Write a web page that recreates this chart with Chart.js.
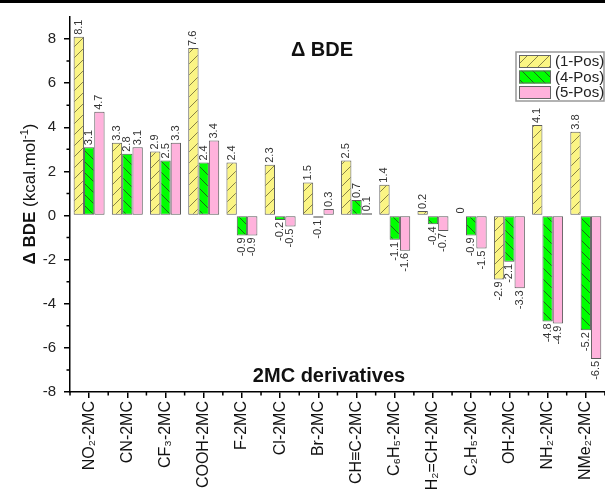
<!DOCTYPE html>
<html><head><meta charset="utf-8">
<script src="https://cdn.jsdelivr.net/npm/chart.js@4"></script>
<style>
html,body{margin:0;padding:0;background:#fff;overflow:hidden;width:605px;height:490px}
#wrap{position:relative;width:605px;height:490px;overflow:hidden}
#topbar{position:absolute;left:0;top:0;width:605px;height:3px;background:#000}
canvas{position:absolute;left:0;top:0}
</style></head><body>
<div id="wrap"><canvas id="c" width="608" height="490"></canvas><div id="topbar"></div></div>
<script>
const categories = ['NO₂-2MC','CN-2MC','CF₃-2MC','COOH-2MC','F-2MC','Cl-2MC','Br-2MC','CH≡C-2MC','C₆H₅-2MC','H₂=CH-2MC','C₂H₅-2MC','OH-2MC','NH₂-2MC','NMe₂-2MC'];
const pos1 = [8.1, 3.3, 2.9, 7.6, 2.4, 2.3, 1.5, 2.5, 1.4, 0.2, 0, -2.9, 4.1, 3.8];
const pos4 = [3.1, 2.8, 2.5, 2.4, -0.9, -0.2, -0.1, 0.7, -1.1, -0.4, -0.9, -2.1, -4.8, -5.2];
const pos5 = [4.7, 3.1, 3.3, 3.4, -0.9, -0.5, 0.3, 0.1, -1.6, -0.7, -1.5, -3.3, -4.9, -6.5];
const seriesNames = ['(1-Pos)', '(4-Pos)', '(5-Pos)'];
const yTickValues = [-8, -6, -4, -2, 0, 2, 4, 6, 8];
const yMinorValues = [-7, -5, -3, -1, 1, 3, 5, 7];
const yMin = -8, yMax = 9;
const chartTitle = 'Δ BDE';
const xTitle = '2MC derivatives';

const FONT = '"Liberation Sans", Arial, Helvetica, sans-serif';
const canvas = document.getElementById('c');
const mainCtx = canvas.getContext('2d');

function hatch(bg, line, dir, lw) {
  const s = 11;
  const c = document.createElement('canvas'); c.width = s; c.height = s;
  const g = c.getContext('2d');
  g.fillStyle = bg; g.fillRect(0, 0, s, s);
  if (line) {
    g.strokeStyle = line; g.lineWidth = lw;
    g.beginPath();
    if (dir > 0) {
      g.moveTo(0, s); g.lineTo(s, 0);
      g.moveTo(-1, 1); g.lineTo(1, -1);
      g.moveTo(s - 1, s + 1); g.lineTo(s + 1, s - 1);
    } else {
      g.moveTo(0, 0); g.lineTo(s, s);
      g.moveTo(-1, s - 1); g.lineTo(1, s + 1);
      g.moveTo(s - 1, -1); g.lineTo(s + 1, 1);
    }
    g.stroke();
  }
  return mainCtx.createPattern(c, 'repeat');
}
const fills = [hatch('#fbf584', '#7a7540', 1, 0.9), hatch('#00ff00', '#1d5a1d', -1, 0.9), hatch('#ffb2dc', null, 0, 0)];

const valueLabels = {
  id: 'valueLabels',
  afterDatasetsDraw(chart) {
    const ctx = chart.ctx;
    ctx.save();
    ctx.font = '11px ' + FONT; ctx.fillStyle = '#333'; ctx.textBaseline = 'middle';
    chart.data.datasets.forEach((ds, di) => {
      const meta = chart.getDatasetMeta(di);
      meta.data.forEach((el, i) => {
        const v = ds.data[i];
        ctx.save();
        if (v >= 0) { ctx.translate(el.x, el.y - 2); ctx.rotate(-Math.PI / 2); ctx.textAlign = 'left'; }
        else { ctx.translate(el.x, el.y + 2); ctx.rotate(-Math.PI / 2); ctx.textAlign = 'right'; }
        ctx.fillText(String(v), 0, 0);
        ctx.restore();
      });
    });
    ctx.restore();
  }
};

const extras = {
  id: 'extras',
  afterDraw(chart) {
    const { ctx, chartArea: a, scales: { x, y } } = chart;
    ctx.save();
    ctx.strokeStyle = '#000'; ctx.lineWidth = 1.5;
    ctx.beginPath();
    yMinorValues.forEach(v => { const p = y.getPixelForValue(v); ctx.moveTo(a.left, p); ctx.lineTo(a.left - 3.5, p); });
    for (let i = 0; i <= categories.length; i++) {
      const p = x.getPixelForValue(i - 0.5);
      ctx.moveTo(p, a.bottom); ctx.lineTo(p, a.bottom + 3.5);
    }
    ctx.stroke();
    ctx.fillStyle = '#111';
    ctx.font = 'bold 20px ' + FONT; ctx.textAlign = 'center'; ctx.textBaseline = 'alphabetic';
    ctx.fillText(chartTitle, 322, 56);
    ctx.fillText(xTitle, 329, 382);
    ctx.save();
    ctx.translate(35, 194); ctx.rotate(-Math.PI / 2);
    const parts = [
      { t: 'Δ BDE', f: 'bold 17px ' + FONT, dy: 0 },
      { t: ' (kcal.mol', f: '17px ' + FONT, dy: 0 },
      { t: '-1', f: '11px ' + FONT, dy: -7 },
      { t: ')', f: '17px ' + FONT, dy: 0 }
    ];
    let total = 0;
    parts.forEach(p => { ctx.font = p.f; p.w = ctx.measureText(p.t).width; total += p.w; });
    let cx = -total / 2;
    ctx.textAlign = 'left';
    parts.forEach(p => { ctx.font = p.f; ctx.fillText(p.t, cx, p.dy); cx += p.w; });
    ctx.restore();
    const lx = 516, ly = 52, lw = 88, lh = 49;
    ctx.fillStyle = '#fff'; ctx.fillRect(lx, ly, lw, lh);
    ctx.strokeStyle = '#999'; ctx.lineWidth = 1.5; ctx.strokeRect(lx, ly, lw, lh);
    ctx.font = '15px ' + FONT; ctx.textBaseline = 'middle'; ctx.textAlign = 'left';
    seriesNames.forEach((n, i) => {
      const sy = ly + 3 + i * 15.5;
      ctx.fillStyle = fills[i]; ctx.fillRect(lx + 3, sy, 32, 13);
      ctx.strokeStyle = '#666'; ctx.lineWidth = 1; ctx.strokeRect(lx + 3.5, sy + 0.5, 31, 12);
      ctx.fillStyle = '#222'; ctx.fillText(n, lx + 39, sy + 7);
    });
    ctx.restore();
  }
};

const ds = (label, data, i) => ({
  label, data, backgroundColor: fills[i], borderColor: '#5a5a5a', borderWidth: 1,
  borderSkipped: false, categoryPercentage: 0.81, barPercentage: 1
});

new Chart(canvas, {
  type: 'bar',
  data: { labels: categories, datasets: [ds(seriesNames[0], pos1, 0), ds(seriesNames[1], pos4, 1), ds(seriesNames[2], pos5, 2)] },
  options: {
    responsive: false, animation: false, devicePixelRatio: 1,
    layout: { padding: { left: 0, top: 12, right: 0, bottom: 0 } },
    plugins: { legend: { display: false }, tooltip: { enabled: false }, title: { display: false } },
    scales: {
      x: {
        offset: true,
        grid: { offset: false, drawOnChartArea: false, tickLength: 6, color: '#000', lineWidth: 1.5 },
        border: { color: '#000', width: 1.5 },
        ticks: { minRotation: 90, maxRotation: 90, autoSkip: false, color: '#111', padding: 3, font: { size: 16, family: FONT } },
        afterFit: s => { s.height = 98; }
      },
      y: {
        min: yMin, max: yMax,
        afterBuildTicks: s => { s.ticks = yTickValues.map(v => ({ value: v })); },
        grid: { drawOnChartArea: false, tickLength: 6, color: '#000', lineWidth: 1.5 },
        border: { color: '#000', width: 1.5 },
        ticks: { color: '#222', padding: 8, font: { size: 15, family: FONT } },
        afterFit: s => { s.width = 70; }
      }
    }
  },
  plugins: [valueLabels, extras]
});
</script>
</body></html>
